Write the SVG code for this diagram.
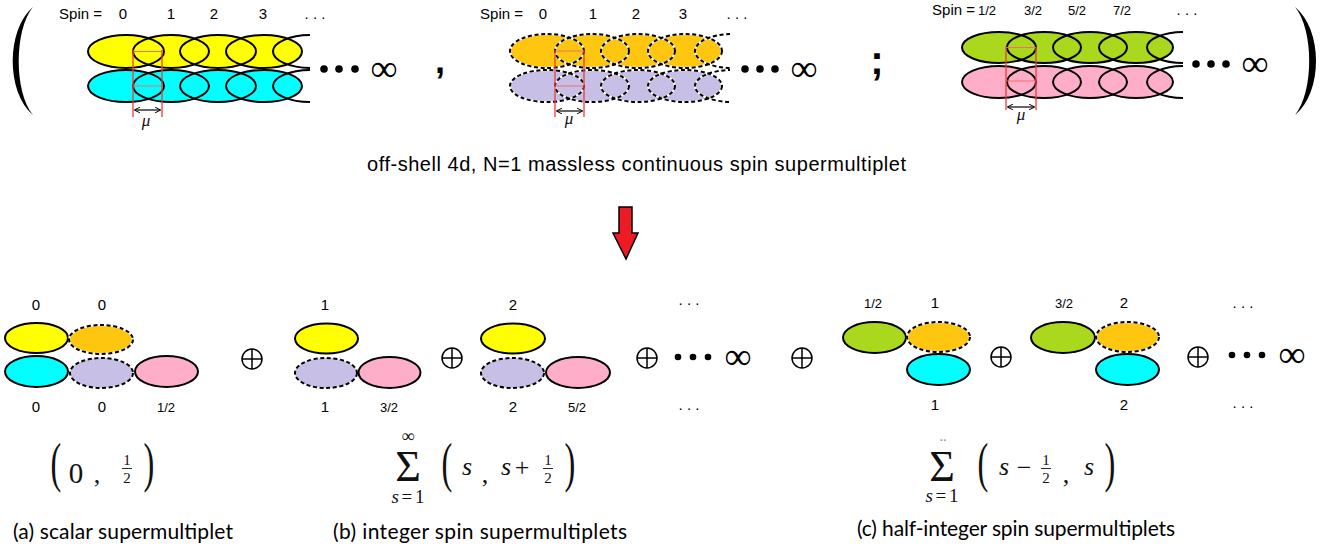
<svg xmlns="http://www.w3.org/2000/svg" width="1337" height="551" viewBox="0 0 1337 551">
<style>
.s{stroke:#000;stroke-width:2;fill:none}
.d{stroke:#000;stroke-width:2;stroke-dasharray:4 2.6;fill:none}
.w{stroke:#fff;stroke-width:2;fill:none}
.ye{fill:#ffff00}.cy{fill:#00ffff}.or{fill:#ffc60f}.la{fill:#c8bfe7}.pk{fill:#ffaec9}.gr{fill:#a9d81d}
.lab{font-family:"Liberation Sans",Arial,sans-serif;font-size:15px;fill:#000;text-anchor:middle}
.sm{font-size:13px}
.red{stroke:#ee3b3b;stroke-width:1.3;fill:none}
.redh{stroke:#f07070;stroke-width:1;fill:none}
.mu{stroke:#000;stroke-width:1.2;fill:none;marker-start:url(#ah);marker-end:url(#ah)}
.math{font-family:"Liberation Serif","Times New Roman",serif;fill:#111;text-anchor:middle}
.it{font-style:italic}
.cap{font-family:Lato,"Open Sans",sans-serif;font-size:21px;fill:#000}
.inf{font-family:"Liberation Serif",serif;font-size:38px;fill:#000;text-anchor:middle}
</style>
<defs>
<marker id="ah" viewBox="0 0 8 8" refX="7" refY="4" markerWidth="6" markerHeight="6" orient="auto-start-reverse" markerUnits="userSpaceOnUse"><path d="M0,0 L8,4 L0,8" fill="none" stroke="#000" stroke-width="1.3"/></marker>
<clipPath id="cL"><rect x="0" y="0" width="310" height="130"/></clipPath>
<clipPath id="cM"><rect x="440" y="0" width="290" height="130"/></clipPath>
<clipPath id="cR"><rect x="900" y="0" width="283" height="130"/></clipPath>
</defs>

<!-- big parentheses -->
<g id="bigparens" fill="#000">
<path d="M33 7 C6 30 6 92 33 115 C14 92 14 30 33 7 Z"/>
<path d="M1295 7 C1323 30 1323 92 1295 115 C1314 92 1314 30 1295 7 Z"/>
</g>

<!-- top-left: integer spin chain -->
<g id="top-integer">
<text class="lab" x="102" y="19" style="text-anchor:end">Spin =</text>
<text class="lab" x="123" y="19">0</text>
<text class="lab" x="171" y="19">1</text>
<text class="lab" x="214" y="19">2</text>
<text class="lab" x="263" y="19">3</text>
<text class="lab" x="315" y="19">. . .</text>
<g clip-path="url(#cL)">
<ellipse class="ye" cx="126" cy="51.5" rx="38" ry="16.5"/><ellipse class="ye" cx="171" cy="51.5" rx="38" ry="16.5"/><ellipse class="ye" cx="218" cy="51.5" rx="38" ry="16.5"/><ellipse class="ye" cx="264" cy="51.5" rx="38" ry="16.5"/>
<ellipse class="cy" cx="126" cy="86" rx="38" ry="16"/><ellipse class="cy" cx="171" cy="86" rx="38" ry="16"/><ellipse class="cy" cx="218" cy="86" rx="38" ry="16"/><ellipse class="cy" cx="264" cy="86" rx="38" ry="16"/>
<ellipse class="s" cx="126" cy="51.5" rx="38" ry="16.5"/><ellipse class="s" cx="171" cy="51.5" rx="38" ry="16.5"/><ellipse class="s" cx="218" cy="51.5" rx="38" ry="16.5"/><ellipse class="s" cx="264" cy="51.5" rx="38" ry="16.5"/><ellipse class="s" cx="311" cy="51.5" rx="38" ry="16.5"/>
<ellipse class="s" cx="126" cy="86" rx="38" ry="16"/><ellipse class="s" cx="171" cy="86" rx="38" ry="16"/><ellipse class="s" cx="218" cy="86" rx="38" ry="16"/><ellipse class="s" cx="264" cy="86" rx="38" ry="16"/><ellipse class="s" cx="311" cy="86" rx="38" ry="16"/>
</g>
<path class="redh" d="M133 51.5H162M133 86H162"/>
<path class="red" d="M133 50V117M162 50V117"/>
<path class="mu" d="M135 110H160"/>
<text class="math it" x="146" y="126" font-size="17">μ</text>
<g fill="#000"><circle cx="324" cy="69" r="3.8"/><circle cx="339" cy="69" r="3.8"/><circle cx="355" cy="69" r="3.8"/></g>
<text class="inf" x="384" y="81">∞</text>
<text x="440" y="73" font-family="Liberation Sans,Arial,sans-serif" font-weight="bold" font-size="36" text-anchor="middle">,</text>
</g>

<!-- top-middle: integer spin dashed chain -->
<g id="top-integer-dashed">
<text class="lab" x="523" y="19" style="text-anchor:end">Spin =</text>
<text class="lab" x="543" y="19">0</text>
<text class="lab" x="593" y="19">1</text>
<text class="lab" x="636" y="19">2</text>
<text class="lab" x="683" y="19">3</text>
<text class="lab" x="737" y="19">. . .</text>
<g clip-path="url(#cM)">
<ellipse class="or" cx="547" cy="51" rx="37" ry="17"/><ellipse class="or" cx="592" cy="51" rx="37" ry="17"/><ellipse class="or" cx="638" cy="51" rx="37" ry="17"/><ellipse class="or" cx="685" cy="51" rx="37" ry="17"/>
<ellipse class="la" cx="547" cy="86" rx="37" ry="16"/><ellipse class="la" cx="592" cy="86" rx="37" ry="16"/><ellipse class="la" cx="638" cy="86" rx="37" ry="16"/><ellipse class="la" cx="685" cy="86" rx="37" ry="16"/>
<g class="w"><ellipse cx="547" cy="51" rx="37" ry="17"/><ellipse cx="592" cy="51" rx="37" ry="17"/><ellipse cx="638" cy="51" rx="37" ry="17"/><ellipse cx="685" cy="51" rx="37" ry="17"/><ellipse cx="732" cy="51" rx="37" ry="17"/>
<ellipse cx="547" cy="86" rx="37" ry="16"/><ellipse cx="592" cy="86" rx="37" ry="16"/><ellipse cx="638" cy="86" rx="37" ry="16"/><ellipse cx="685" cy="86" rx="37" ry="16"/><ellipse cx="732" cy="86" rx="37" ry="16"/></g>
<g class="d"><ellipse cx="547" cy="51" rx="37" ry="17"/><ellipse cx="592" cy="51" rx="37" ry="17"/><ellipse cx="638" cy="51" rx="37" ry="17"/><ellipse cx="685" cy="51" rx="37" ry="17"/><ellipse cx="732" cy="51" rx="37" ry="17"/>
<ellipse cx="547" cy="86" rx="37" ry="16"/><ellipse cx="592" cy="86" rx="37" ry="16"/><ellipse cx="638" cy="86" rx="37" ry="16"/><ellipse cx="685" cy="86" rx="37" ry="16"/><ellipse cx="732" cy="86" rx="37" ry="16"/></g>
</g>
<path class="redh" d="M555 51H584M555 86H584"/>
<path class="red" d="M555 50V117M584 50V117"/>
<path class="mu" d="M557 111H582"/>
<text class="math it" x="569" y="124" font-size="17">μ</text>
<g fill="#000"><circle cx="745" cy="69" r="3.8"/><circle cx="760" cy="69" r="3.8"/><circle cx="775" cy="69" r="3.8"/></g>
<text class="inf" x="804" y="81">∞</text>
<text x="877" y="74" font-family="Liberation Sans,Arial,sans-serif" font-weight="bold" font-size="40" text-anchor="middle">;</text>
</g>

<!-- top-right: half-integer chain -->
<g id="top-half-integer">
<text class="lab" x="975" y="15" style="text-anchor:end">Spin =</text>
<text class="lab sm" x="987" y="15">1/2</text>
<text class="lab sm" x="1033" y="15">3/2</text>
<text class="lab sm" x="1077" y="15">5/2</text>
<text class="lab sm" x="1122" y="15">7/2</text>
<text class="lab" x="1187" y="15">. . .</text>
<g clip-path="url(#cR)">
<ellipse class="gr" cx="999" cy="47.5" rx="37" ry="15.5"/><ellipse class="gr" cx="1044" cy="47.5" rx="37" ry="15.5"/><ellipse class="gr" cx="1090" cy="47.5" rx="37" ry="15.5"/><ellipse class="gr" cx="1136" cy="47.5" rx="37" ry="15.5"/>
<ellipse class="pk" cx="999" cy="82" rx="37" ry="16"/><ellipse class="pk" cx="1044" cy="82" rx="37" ry="16"/><ellipse class="pk" cx="1090" cy="82" rx="37" ry="16"/><ellipse class="pk" cx="1136" cy="82" rx="37" ry="16"/>
<g class="s"><ellipse cx="999" cy="47.5" rx="37" ry="15.5"/><ellipse cx="1044" cy="47.5" rx="37" ry="15.5"/><ellipse cx="1090" cy="47.5" rx="37" ry="15.5"/><ellipse cx="1136" cy="47.5" rx="37" ry="15.5"/><ellipse cx="1184" cy="47.5" rx="37" ry="15.5"/>
<ellipse cx="999" cy="82" rx="37" ry="16"/><ellipse cx="1044" cy="82" rx="37" ry="16"/><ellipse cx="1090" cy="82" rx="37" ry="16"/><ellipse cx="1136" cy="82" rx="37" ry="16"/><ellipse cx="1184" cy="82" rx="37" ry="16"/></g>
</g>
<path class="redh" d="M1006 47.5H1036M1006 81H1036"/>
<path class="red" d="M1006 47V110M1036 47V110"/>
<path class="mu" d="M1008 107H1034"/>
<text class="math it" x="1021" y="120" font-size="17">μ</text>
<g fill="#000"><circle cx="1196" cy="64" r="3.8"/><circle cx="1211" cy="64" r="3.8"/><circle cx="1226" cy="64" r="3.8"/></g>
<text class="inf" x="1255" y="76">∞</text>
</g>

<text id="subtitle" x="367" y="171" font-family="Liberation Sans,Arial,sans-serif" font-size="20" textLength="539" lengthAdjust="spacing">off-shell 4d, N=1 massless continuous spin supermultiplet</text>

<g id="red-arrow">
<path d="M619 207H632V233H638L626 259L613 233H619Z" fill="#ed1c24" stroke="#000" stroke-width="1.5" stroke-linejoin="miter"/>
</g>

<!-- (a) scalar supermultiplet -->
<g id="scalar">
<text class="lab" x="36" y="310">0</text><text class="lab" x="102" y="310">0</text>
<ellipse class="s" cx="36.5" cy="338" rx="31.5" ry="15" style="fill:#ffff00"/>
<ellipse class="or" cx="101" cy="339.5" rx="32" ry="14.5"/><ellipse class="w" cx="101" cy="339.5" rx="32" ry="14.5"/><ellipse class="d" cx="101" cy="339.5" rx="32" ry="14.5"/>
<ellipse class="s" cx="36.5" cy="371.5" rx="31.5" ry="15.5" style="fill:#00ffff"/>
<ellipse class="la" cx="101.5" cy="373" rx="31.5" ry="15"/><ellipse class="d" cx="101.5" cy="373" rx="31.5" ry="15"/>
<ellipse class="s" cx="166.5" cy="371.5" rx="31.5" ry="15.5" style="fill:#ffaec9"/>
<text class="lab" x="36" y="412">0</text><text class="lab" x="102" y="412">0</text><text class="lab sm" x="166" y="412">1/2</text>
</g>

<g id="oplus" fill="none" stroke="#000" stroke-width="1.5">
<circle cx="252" cy="359" r="10"/><path d="M242 359H262M252 349V369"/>
<circle cx="452" cy="358" r="10"/><path d="M442 358H462M452 348V368"/>
<circle cx="647" cy="358" r="10"/><path d="M637 358H657M647 348V368"/>
<circle cx="802" cy="358" r="10"/><path d="M792 358H812M802 348V368"/>
<circle cx="1001" cy="357" r="10"/><path d="M991 357H1011M1001 347V367"/>
<circle cx="1198" cy="357" r="10"/><path d="M1188 357H1208M1198 347V367"/>
</g>

<!-- (b) integer spin supermultiplets -->
<g id="integer-1">
<text class="lab" x="325" y="310">1</text>
<ellipse class="s" cx="326.5" cy="338.5" rx="31.5" ry="15" style="fill:#ffff00"/>
<ellipse class="la" cx="326" cy="373" rx="31" ry="15"/><ellipse class="d" cx="326" cy="373" rx="31" ry="15"/>
<ellipse class="s" cx="389.5" cy="372.5" rx="31" ry="15.5" style="fill:#ffaec9"/>
<text class="lab" x="325" y="412">1</text><text class="lab sm" x="389" y="412">3/2</text>
</g>
<g id="integer-2">
<text class="lab" x="513" y="310">2</text>
<ellipse class="s" cx="513" cy="338.5" rx="32" ry="15" style="fill:#ffff00"/>
<ellipse class="la" cx="512.5" cy="373" rx="31.5" ry="15"/><ellipse class="d" cx="512.5" cy="373" rx="31.5" ry="15"/>
<ellipse class="s" cx="578" cy="372.5" rx="32" ry="15.5" style="fill:#ffaec9"/>
<text class="lab" x="513" y="412">2</text><text class="lab sm" x="577" y="412">5/2</text>
</g>
<g id="integer-more">
<text class="lab" x="689" y="305">. . .</text>
<g fill="#000"><circle cx="678" cy="357" r="3.3"/><circle cx="693" cy="357" r="3.3"/><circle cx="708" cy="357" r="3.3"/></g>
<text class="inf" x="738" y="369">∞</text>
<text class="lab" x="689" y="410">. . .</text>
</g>

<!-- (c) half-integer spin supermultiplets -->
<g id="half-1">
<text class="lab sm" x="873" y="308">1/2</text><text class="lab" x="935" y="308">1</text>
<ellipse class="s" cx="874.5" cy="337.5" rx="31.5" ry="15.5" style="fill:#a9d81d"/>
<ellipse class="or" cx="938.5" cy="337" rx="31.5" ry="15"/><ellipse class="w" cx="938.5" cy="337" rx="31.5" ry="15"/><ellipse class="d" cx="938.5" cy="337" rx="31.5" ry="15"/>
<ellipse class="s" cx="938.5" cy="369.5" rx="31.5" ry="15.5" style="fill:#00ffff"/>
<text class="lab" x="935" y="410">1</text>
</g>
<g id="half-2">
<text class="lab sm" x="1064" y="308">3/2</text><text class="lab" x="1124" y="308">2</text>
<ellipse class="s" cx="1063" cy="337.5" rx="32" ry="15.5" style="fill:#a9d81d"/>
<ellipse class="or" cx="1127.5" cy="337" rx="31.5" ry="15"/><ellipse class="w" cx="1127.5" cy="337" rx="31.5" ry="15"/><ellipse class="d" cx="1127.5" cy="337" rx="31.5" ry="15"/>
<ellipse class="s" cx="1127.5" cy="369.5" rx="31.5" ry="15.5" style="fill:#00ffff"/>
<text class="lab" x="1124" y="410">2</text>
</g>
<g id="half-more">
<text class="lab" x="1243" y="308">. . .</text>
<g fill="#000"><circle cx="1232" cy="355" r="3.3"/><circle cx="1247" cy="355" r="3.3"/><circle cx="1262" cy="355" r="3.3"/></g>
<text class="inf" x="1292" y="367">∞</text>
<text class="lab" x="1243" y="408">. . .</text>
</g>

<!-- formulas -->
<g id="formula-a" class="math">
<text transform="translate(56 481) scale(0.6 1)" font-size="54">(</text>
<text x="76" y="483" font-size="29">0</text>
<text x="97" y="483" font-size="26">,</text>
<text x="127" y="465" font-size="15">1</text>
<path d="M122 468.5H132" stroke="#111" stroke-width="0.9"/>
<text x="127" y="483" font-size="15">2</text>
<text transform="translate(149 481) scale(0.6 1)" font-size="54">)</text>
</g>
<g id="formula-b" class="math">
<text x="408" y="442" font-size="18">∞</text>
<text x="408" y="481" font-size="44">Σ</text>
<text x="408" y="503" font-size="19" textLength="33" lengthAdjust="spacing"><tspan class="it">s</tspan>=1</text>
<text transform="translate(447 481) scale(0.6 1)" font-size="54">(</text>
<text class="it" x="467" y="475" font-size="26">s</text>
<text x="485" y="483" font-size="26">,</text>
<text class="it" x="506" y="475" font-size="26">s</text>
<text x="522" y="476" font-size="26">+</text>
<text x="548" y="465" font-size="15">1</text>
<path d="M543 468.5H553" stroke="#111" stroke-width="0.9"/>
<text x="548" y="483" font-size="15">2</text>
<text transform="translate(570 481) scale(0.6 1)" font-size="54">)</text>
</g>
<g id="formula-c" class="math">
<text x="943" y="441" font-size="14" fill="#888">..</text>
<text x="942" y="481" font-size="44">Σ</text>
<text x="942" y="502" font-size="19" textLength="33" lengthAdjust="spacing"><tspan class="it">s</tspan>=1</text>
<text transform="translate(983 481) scale(0.6 1)" font-size="54">(</text>
<text class="it" x="1004" y="475" font-size="26">s</text>
<text x="1024" y="476" font-size="26">−</text>
<text x="1046" y="465" font-size="15">1</text>
<path d="M1041 468.5H1051" stroke="#111" stroke-width="0.9"/>
<text x="1046" y="483" font-size="15">2</text>
<text x="1066" y="483" font-size="26">,</text>
<text class="it" x="1089" y="475" font-size="26">s</text>
<text transform="translate(1110 481) scale(0.6 1)" font-size="54">)</text>
</g>

<g id="captions">
<text class="cap" x="13" y="539" textLength="220" lengthAdjust="spacing">(a) scalar supermultiplet</text>
<text class="cap" x="333" y="539" textLength="294" lengthAdjust="spacing">(b) integer spin supermultiplets</text>
<text class="cap" x="857" y="536" textLength="318" lengthAdjust="spacing">(c) half-integer spin supermultiplets</text>
</g>
</svg>
